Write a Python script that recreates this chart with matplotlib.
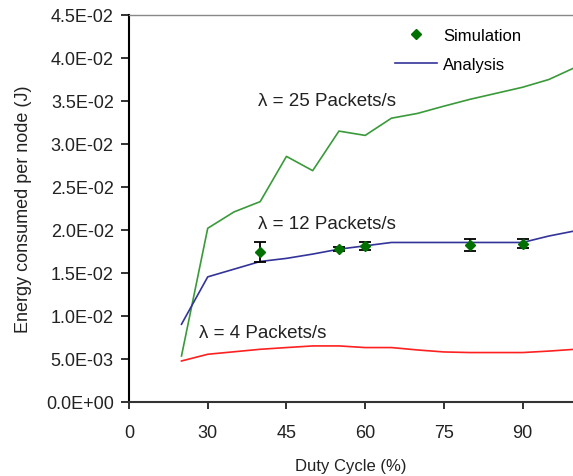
import matplotlib
matplotlib.use("Agg")
import matplotlib.pyplot as plt
from matplotlib.lines import Line2D

plt.rcParams['font.family'] = ['Liberation Sans', 'DejaVu Sans']

# Data
duty_25 = [25, 30, 35, 40, 45, 50, 55, 60, 65, 70, 75, 80, 85, 90, 95, 100]
energy_25 = [0.00535, 0.0202, 0.0221, 0.0233, 0.02856, 0.0269, 0.0315, 0.0310,
             0.0330, 0.03356, 0.0344, 0.0352, 0.0359, 0.0366, 0.0375, 0.0389]

duty_12 = [25, 30, 40, 45, 50, 55, 60, 65, 70, 75, 80, 85, 90, 95, 100]
energy_12 = [0.00904, 0.01455, 0.01634, 0.0167, 0.0172, 0.01777, 0.01816, 0.01855,
             0.01855, 0.01855, 0.01855, 0.01855, 0.01855, 0.0193, 0.0199]

duty_4 = [25, 30, 40, 45, 50, 55, 60, 65, 70, 75, 80, 85, 90, 95, 100]
energy_4 = [0.00477, 0.00555, 0.00613, 0.00633, 0.00652, 0.00652, 0.00633, 0.00633,
            0.00605, 0.00582, 0.00575, 0.00575, 0.00575, 0.00592, 0.00613]

sim_duty = [40, 55, 60, 80, 90]
sim_energy = [0.01746, 0.01777, 0.01816, 0.01823, 0.01843]
sim_err = [0.00117, 0.0002, 0.0005, 0.00068, 0.00047]

x_ticks = [15, 30, 45, 60, 75, 90]
x_tick_labels = ["0", "30", "45", "60", "75", "90"]
y_ticks = [0.0, 0.005, 0.010, 0.015, 0.020, 0.025, 0.030, 0.035, 0.040, 0.045]
y_tick_labels = ["0.0E+00", "5.0E-03", "1.0E-02", "1.5E-02", "2.0E-02",
                 "2.5E-02", "3.0E-02", "3.5E-02", "4.0E-02", "4.5E-02"]

fig = plt.figure(figsize=(5.73, 4.77), dpi=100)
ax = fig.add_axes([129/573, 74/477, 444/573, 387/477])

ax.plot(duty_25, energy_25, color='#3a9a3a', lw=1.2)
ax.plot(duty_12, energy_12, color='#333399', lw=1.2)
ax.plot(duty_4, energy_4, color='#ff2020', lw=1.2)
ax.errorbar(sim_duty, sim_energy, yerr=sim_err, fmt='D', color='#007000',
            markersize=5.5, ecolor='black', elinewidth=1.3, capsize=4, capthick=1.3)

ax.set_xlim(15, 99.6)
ax.set_ylim(0, 0.045)
ax.set_xticks(x_ticks)
ax.set_xticklabels(x_tick_labels)
ax.set_yticks(y_ticks)
ax.set_yticklabels(y_tick_labels)
ax.tick_params(axis='both', labelsize=13, colors='#222222', direction='out')
ax.tick_params(axis='y', length=6, width=1.3, pad=5)
ax.tick_params(axis='x', length=5, width=1.3, pad=11)

ax.spines['right'].set_visible(False)
ax.spines['top'].set_color('#888888')
ax.spines['top'].set_linewidth(1.0)
ax.spines['left'].set_color('black')
ax.spines['left'].set_linewidth(1.5)
ax.spines['bottom'].set_color('#333333')
ax.spines['bottom'].set_linewidth(1.5)

ax.set_xlabel("Duty Cycle (%)", fontsize=12, color='#222222', labelpad=12)
ax.set_ylabel("Energy consumed per node (J)", fontsize=13, color='#222222', labelpad=10)

ax.text(39.6, 0.035, "λ = 25 Packets/s", fontsize=13.5, va='center', ha='left', color='#222222')
ax.text(39.6, 0.0208, "λ = 12 Packets/s", fontsize=13.5, va='center', ha='left', color='#222222')
ax.text(28.4, 0.0081, "λ = 4 Packets/s", fontsize=13.5, va='center', ha='left', color='#222222')

handles = [Line2D([], [], marker='D', color='#007000', linestyle='none', markersize=5.5),
           Line2D([], [], color='#333399', lw=1.2)]
fig.legend(handles, ["Simulation", "Analysis"], loc='upper left',
           bbox_to_anchor=(395/573, 1 - 29/477), frameon=False, fontsize=12,
           handlelength=2.5, handletextpad=0.4, labelspacing=0.85, borderpad=0,
           borderaxespad=0)

fig.savefig("out.png", dpi=100)
